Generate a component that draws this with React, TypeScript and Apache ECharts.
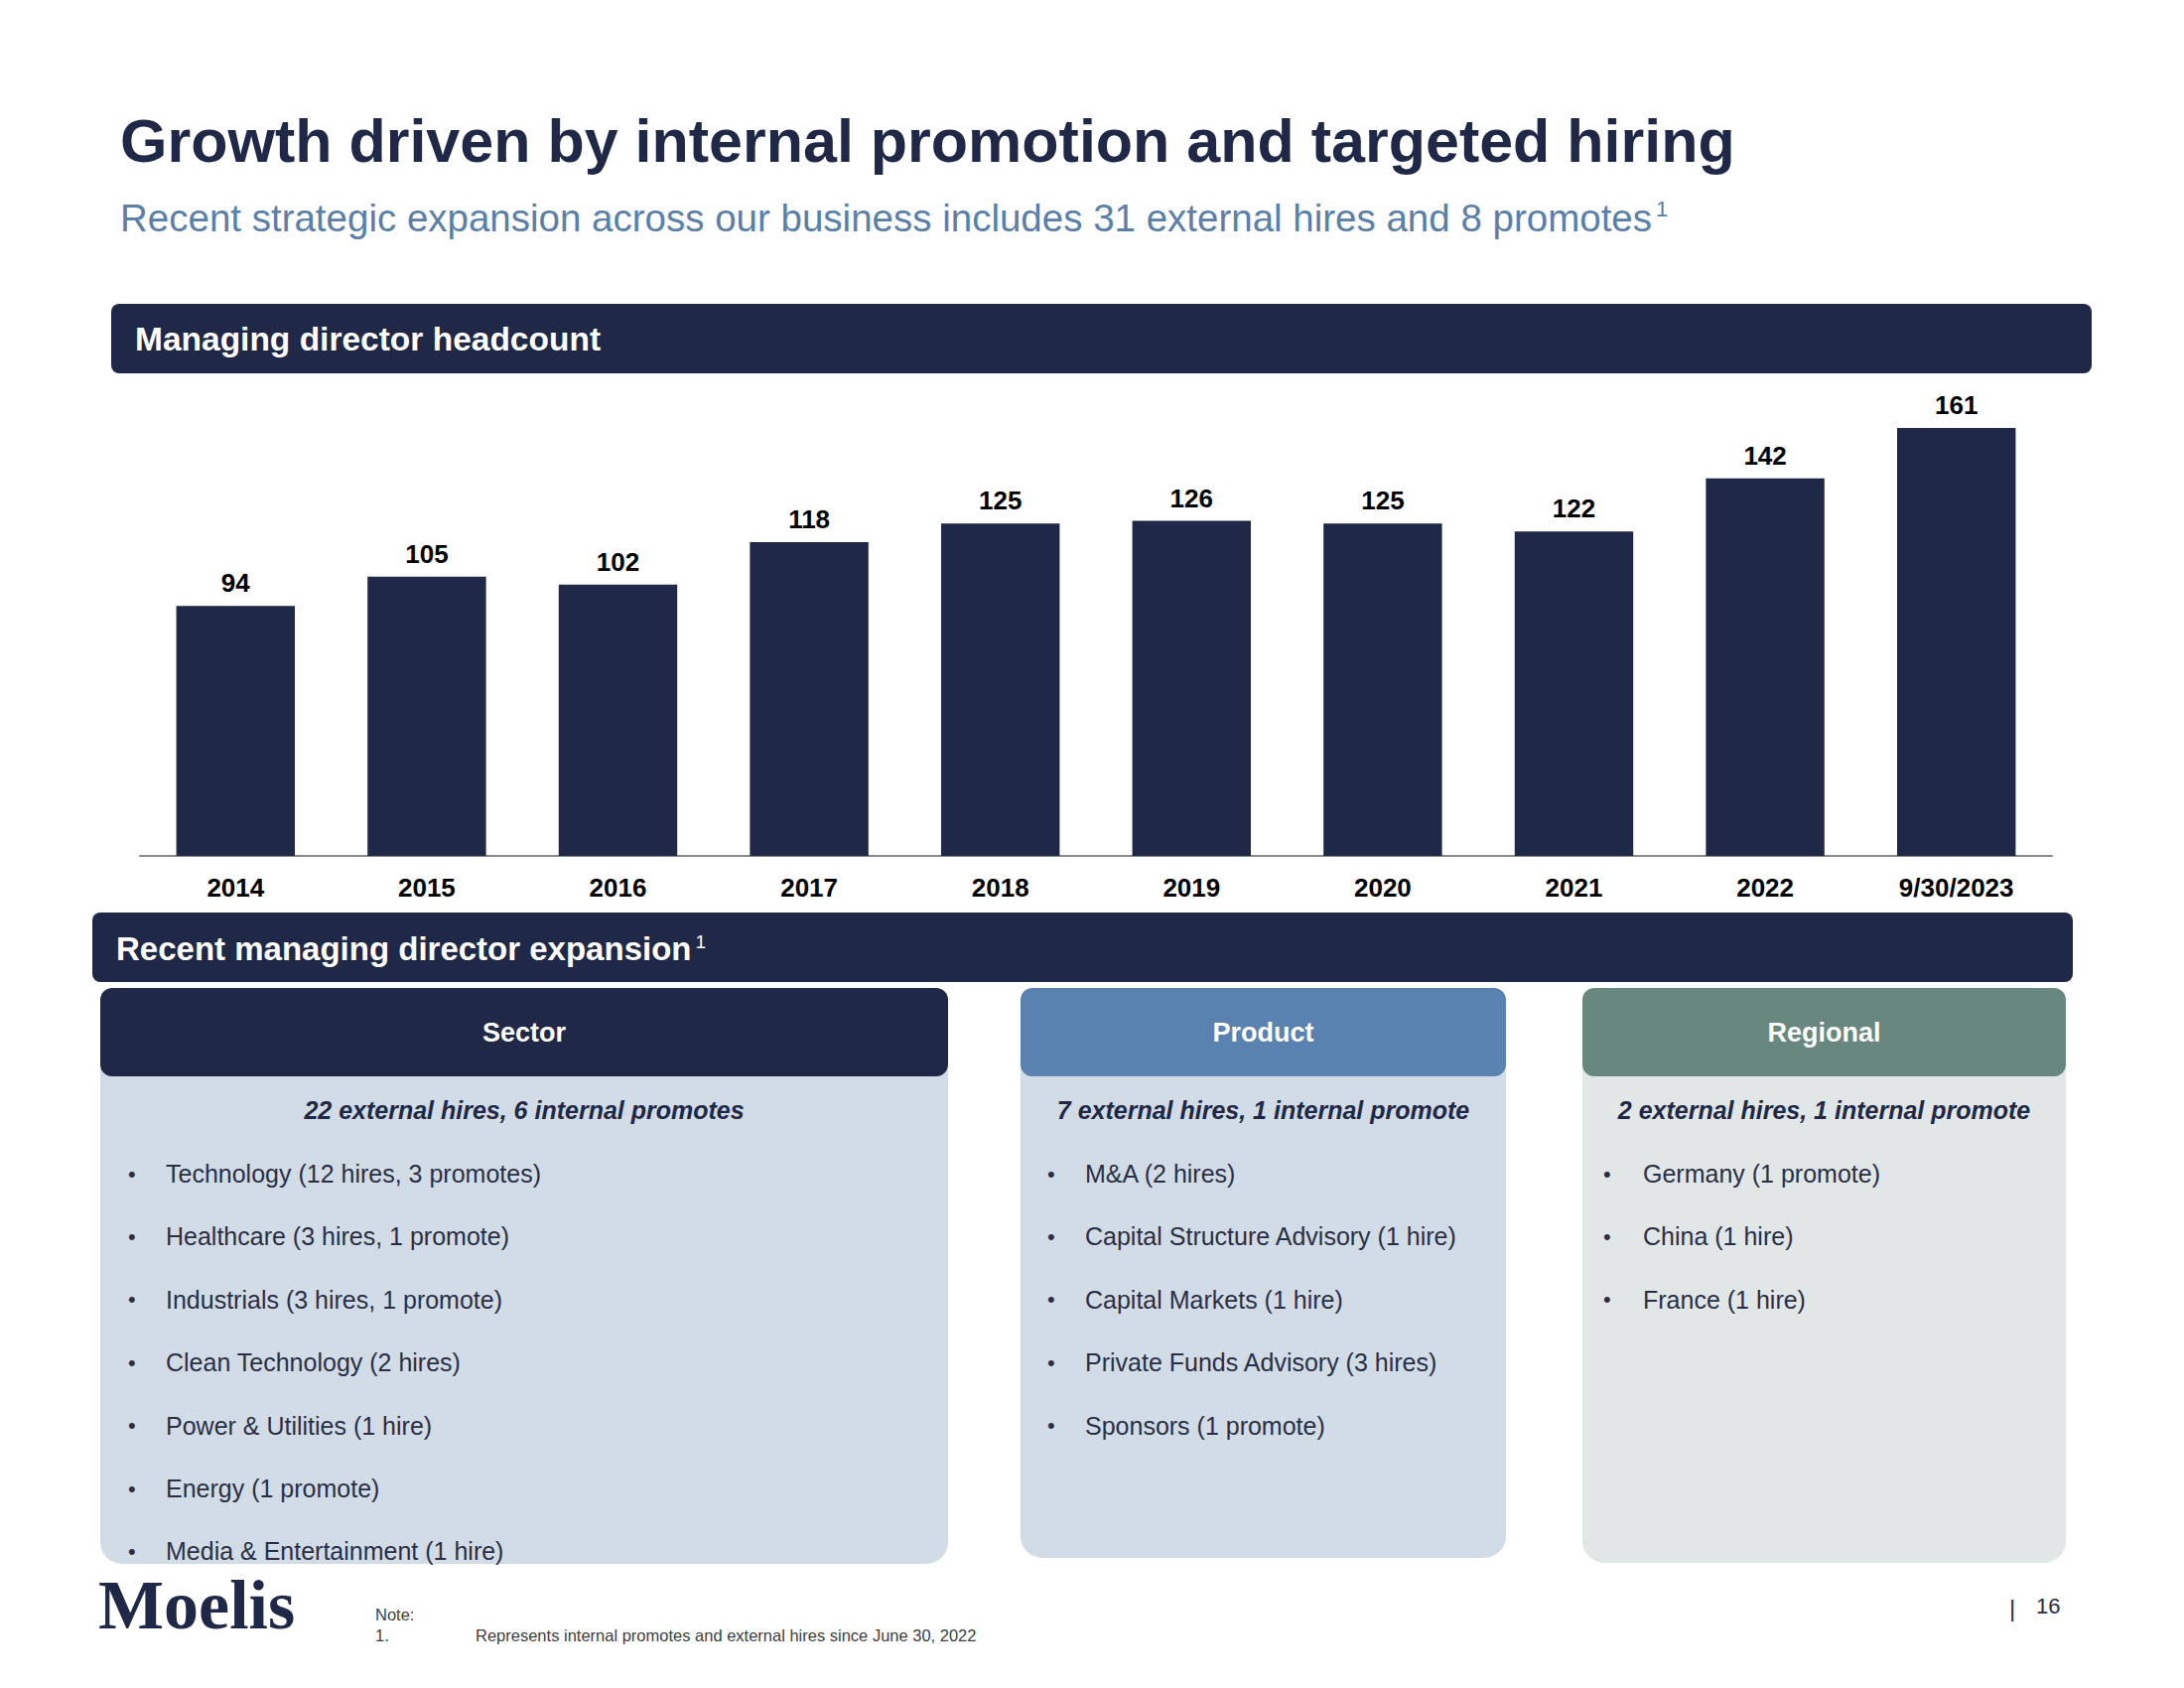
import React, { useEffect, useRef } from "react";
import * as echarts from "echarts";

// ---------- data ----------
const categories = ["2014", "2015", "2016", "2017", "2018", "2019", "2020", "2021", "2022", "9/30/2023"];
const headcount = [94, 105, 102, 118, 125, 126, 125, 122, 142, 161];

const titleText = "Growth driven by internal promotion and targeted hiring";
const subtitleText = "Recent strategic expansion across our business includes 31 external hires and 8 promotes";
const chartHeader = "Managing director headcount";
const expansionHeader = "Recent managing director expansion";

const cardTitles = ["Sector", "Product", "Regional"];
const cardSubtitles = [
  "22 external hires, 6 internal promotes",
  "7 external hires, 1 internal promote",
  "2 external hires, 1 internal promote",
];
const sectorItems = [
  "Technology (12 hires, 3 promotes)",
  "Healthcare (3 hires, 1 promote)",
  "Industrials (3 hires, 1 promote)",
  "Clean Technology (2 hires)",
  "Power & Utilities (1 hire)",
  "Energy (1 promote)",
  "Media & Entertainment (1 hire)",
];
const productItems = [
  "M&A (2 hires)",
  "Capital Structure Advisory (1 hire)",
  "Capital Markets (1 hire)",
  "Private Funds Advisory (3 hires)",
  "Sponsors (1 promote)",
];
const regionalItems = ["Germany (1 promote)", "China (1 hire)", "France (1 hire)"];
const cardItems = [sectorItems, productItems, regionalItems];

const noteLabel = "Note:";
const noteNumber = "1.";
const noteText = "Represents internal promotes and external hires since June 30, 2022";
const pageNumber = "16";

// ---------- styles / layout ----------
const FONT = '"Liberation Sans", Arial, Helvetica, sans-serif';
const NAVY = "#1f2846";
const cardLayout = [
  { x: 101, w: 854, bottom: 1575, head: NAVY, body: "#d1dce6", bulletX: 129, textX: 167 },
  { x: 1028, w: 489, bottom: 1569, head: "#5a82b0", body: "#d1dce6", bulletX: 1055, textX: 1093 },
  { x: 1594, w: 487, bottom: 1574, head: "#68877e", body: "#e1e6e6", bulletX: 1615, textX: 1655 },
];

function txt(x: number, y: number, t: string, size: number, extra: any = {}) {
  const align = extra.align || "left";
  return {
    type: "text",
    x,
    y,
    silent: true,
    style: {
      text: t,
      fontSize: size,
      fontFamily: FONT,
      fill: NAVY,
      align,
      textAlign: align,
      verticalAlign: "middle",
      textVerticalAlign: "middle",
      ...extra,
    },
  };
}

function rect(x: number, y: number, w: number, h: number, r: any, fill: string) {
  return { type: "rect", silent: true, shape: { x, y, width: w, height: h, r }, style: { fill } };
}

function buildGraphics() {
  const g: any[] = [];
  // title & subtitle
  g.push(txt(121, 142, titleText, 61, { fontWeight: "bold" }));
  g.push(
    txt(121, 219, `{m|${subtitleText}}{s|1}`, 38.5, {
      fill: "#5a80aa",
      rich: {
        m: { fontSize: 38.5, fontFamily: FONT, fill: "#5a80aa", color: "#5a80aa" },
        s: { fontSize: 22, fontFamily: FONT, fill: "#5a80aa", color: "#5a80aa", verticalAlign: "top", padding: [0, 0, 0, 4] },
      },
    })
  );
  // section header bars
  g.push(rect(112, 306, 1995, 70, 8, NAVY));
  g.push(txt(136, 341, chartHeader, 33.5, { fontWeight: "bold", fill: "#ffffff" }));
  g.push(rect(93, 919, 1995, 70, 8, NAVY));
  g.push(
    txt(117, 955, `{m|${expansionHeader}}{s|1}`, 33, {
      fill: "#ffffff",
      rich: {
        m: { fontSize: 33, fontWeight: "bold", fontFamily: FONT, fill: "#ffffff", color: "#ffffff" },
        s: { fontSize: 19, fontFamily: FONT, fill: "#ffffff", color: "#ffffff", verticalAlign: "top", padding: [0, 0, 0, 4] },
      },
    })
  );
  // cards
  cardLayout.forEach((c, i) => {
    g.push(rect(c.x, 1050, c.w, c.bottom - 1050, [0, 0, 22, 22], c.body));
    g.push(rect(c.x, 995, c.w, 89, 12, c.head));
    g.push(txt(c.x + c.w / 2, 1040, cardTitles[i], 27, { fontWeight: "bold", fill: "#ffffff", align: "center" }));
    g.push(
      txt(c.x + c.w / 2, 1118, cardSubtitles[i], 25, { fontWeight: "bold", fontStyle: "italic", align: "center" })
    );
    cardItems[i].forEach((item, j) => {
      const y = 1182 + j * 63.4;
      g.push(txt(c.bulletX, y, "\u2022", 22, { fill: "#2a2f45" }));
      g.push(txt(c.textX, y, item, 25, { fill: "#2a2f45" }));
    });
  });
  // footer
  g.push(
    txt(99, 1616, "Moelis", 70, { fontFamily: '"Liberation Serif", "DejaVu Serif", serif', fontWeight: "bold" })
  );
  g.push(txt(378, 1626, noteLabel, 16.5, { fill: "#404040" }));
  g.push(txt(378, 1647, noteNumber, 16.5, { fill: "#404040" }));
  g.push(txt(479, 1647, noteText, 16.5, { fill: "#404040" }));
  g.push(txt(2024, 1619, "|", 24, { fill: "#2a2f45" }));
  g.push(txt(2051, 1617, pageNumber, 22, { fill: "#2a2f45" }));
  return g;
}

export default function App() {
  const ref = useRef<HTMLDivElement>(null);
  useEffect(() => {
    if (!ref.current) return;
    const chart = echarts.init(ref.current, null, { renderer: "svg" });
    chart.setOption({
      animation: false,
      backgroundColor: "#ffffff",
      grid: { left: 141, right: 133, top: 380, bottom: 838, containLabel: false },
      xAxis: {
        type: "category",
        data: categories,
        axisTick: { show: false },
        axisLine: { show: true, lineStyle: { color: "#8a8a8a", width: 2 } },
        axisLabel: { fontSize: 26, fontWeight: "bold", color: "#000000", fontFamily: FONT, margin: 19, interval: 0 },
      },
      yAxis: { type: "value", min: 0, max: 180, show: false, splitLine: { show: false } },
      series: [
        {
          type: "bar",
          data: headcount,
          barWidth: "62%",
          itemStyle: { color: NAVY },
          label: {
            show: true,
            position: "top",
            distance: 10,
            fontSize: 26,
            fontWeight: "bold",
            color: "#000000",
            fontFamily: FONT,
          },
        },
      ],
      graphic: { elements: buildGraphics() },
    });
    return () => chart.dispose();
  }, []);
  return (
    <div
      ref={ref}
      style={{ position: "absolute", left: 0, top: 0, width: 2200, height: 1700, background: "#fff" }}
    />
  );
}
